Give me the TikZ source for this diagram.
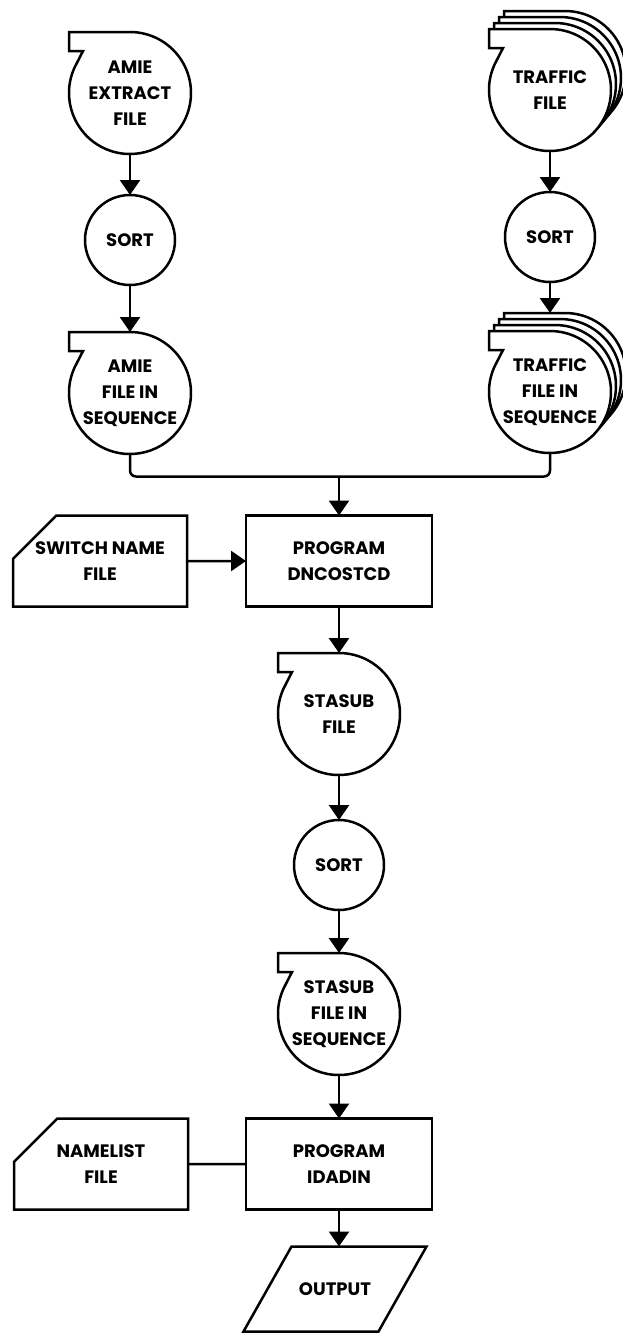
\documentclass[tikz,border=0pt]{standalone}
\usepackage{fontspec}
\setmainfont{Poppins}
\usepackage{tikz}
\usetikzlibrary{shapes.geometric, shapes.misc, arrows.meta, positioning, calc, backgrounds}

% tape outline: circle with the tab at the top left
\newcommand{\tapebody}[2]{%
  \filldraw[line width=2.5pt, fill=white] ([shift={#2}]#1.north) -- ++(-61,0) -- ++(0,-19) -- ++(14,0)
    -- ([shift={#2}]#1.155) arc[start angle=155, end angle=450, radius=61pt] -- cycle;}

\begin{document}
\begin{tikzpicture}[x=1pt, y=1pt,
    every node/.append style={font=\bfseries\fontsize{18pt}{26pt}\selectfont, align=center},
    tape/.style={circle, minimum size=122pt, inner sep=-14pt, outer sep=0pt},
    sortnode/.style={circle, draw, line width=2.5pt, minimum size=90pt, inner sep=0pt, outer sep=0pt},
    progbox/.style={rectangle, draw, line width=2.5pt, minimum width=186pt, minimum height=91pt,
                    inner sep=0pt, outer sep=0pt},
    card/.style={chamfered rectangle, chamfered rectangle corners=north west,
                 chamfered rectangle xsep=40pt, chamfered rectangle ysep=24pt,
                 draw, line width=2.5pt, minimum width=174pt, minimum height=91pt,
                 inner sep=0pt, outer sep=0pt},
    outbox/.style={rectangle, minimum width=135pt, minimum height=85pt, inner sep=0pt, outer sep=0pt},
    link/.style={line width=2.5pt},
    flow/.style={line width=2.5pt, -{Triangle[width=20pt,length=15pt]}}]

\useasboundingbox (0,0) rectangle (623,-1334);

% Input files and sorts
\node[tape] (amie) at (130,-93) {AMIE\\EXTRACT\\FILE};
\node[sortnode] (sorta) at (130,-240) {SORT};
\node[tape] (amieseq) at (130,-393) {AMIE\\FILE IN\\SEQUENCE};
\node[tape] (traffic) at (550,-90) {TRAFFIC\\FILE};
\node[sortnode] (sortb) at (550,-237) {SORT};
\node[tape] (trafficseq) at (550,-392) {TRAFFIC\\FILE IN\\SEQUENCE};

% First program
\node[progbox] (dncostcd) at (339,-561) {PROGRAM\\DNCOSTCD};
\node[card] (switchname) at (100,-561) {SWITCH NAME\\FILE};
\coordinate (merge) at ($(dncostcd.north)+(0,39)$);

% Second program
\node[tape] (stasub) at (339,-714) {STASUB\\FILE};
\node[sortnode] (sortc) at (339,-865) {SORT};
\node[tape] (stasubseq) at (339,-1014) {STASUB\\FILE IN\\SEQUENCE};
\node[progbox] (idadin) at (339,-1164) {PROGRAM\\IDADIN};
\node[card] (namelist) at (101,-1164) {NAMELIST\\FILE};
\node[outbox] (output) at (335,-1289) {OUTPUT};
\draw[link] ([xshift=24pt]output.north west) -- ([xshift=24pt]output.north east)
  -- ([xshift=-24pt]output.south east) -- ([xshift=-24pt]output.south west) -- cycle;

% Tape outlines (stacked ones for the traffic files)
\begin{pgfonlayer}{background}
\foreach \k in {3,2,1,0} {
  \tapebody{traffic}{(5*\k,6*\k)}
  \tapebody{trafficseq}{(5*\k,6*\k)}
}
\foreach \n in {amie, amieseq, stasub, stasubseq} {\tapebody{\n}{(0,0)}}
\end{pgfonlayer}

% Flow
\draw[flow] (amie) -- (sorta);
\draw[flow] (sorta) -- (amieseq);
\draw[flow] (traffic) -- (sortb);
\draw[flow] (sortb) -- ([yshift=18pt]trafficseq.north);
\draw[link, rounded corners=6pt] (amieseq) |- (merge) -| (trafficseq);
\draw[flow] (merge) -- (dncostcd);
\draw[flow] (switchname) -- (dncostcd);
\draw[flow] (dncostcd) -- (stasub);
\draw[flow] (stasub) -- (sortc);
\draw[flow] (sortc) -- (stasubseq);
\draw[flow] (stasubseq) -- (idadin);
\draw[link] (namelist) -- (idadin);
\draw[flow] (idadin) -- (idadin |- output.north);

\end{tikzpicture}
\end{document}
